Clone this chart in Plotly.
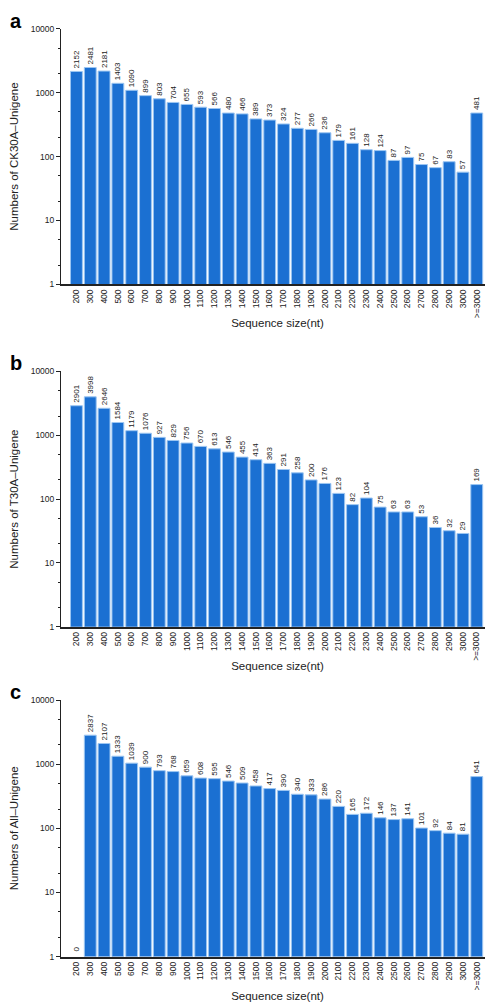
import plotly.graph_objects as go

categories = ["200", "300", "400", "500", "600", "700", "800", "900", "1000", "1100",
              "1200", "1300", "1400", "1500", "1600", "1700", "1800", "1900", "2000", "2100",
              "2200", "2300", "2400", "2500", "2600", "2700", "2800", "2900", "3000", ">=3000"]

ck30a = [2152, 2481, 2181, 1403, 1090, 899, 803, 704, 655, 593,
         566, 480, 466, 389, 373, 324, 277, 266, 236, 179,
         161, 128, 124, 87, 97, 75, 67, 83, 57, 481]

t30a = [2901, 3998, 2646, 1584, 1179, 1076, 927, 829, 756, 670,
        613, 546, 455, 414, 363, 291, 258, 200, 176, 123,
        82, 104, 75, 63, 63, 53, 36, 32, 29, 169]

all_unigene = [0, 2837, 2107, 1333, 1039, 900, 793, 768, 659, 608,
               595, 546, 509, 458, 417, 390, 340, 333, 286, 220,
               165, 172, 146, 137, 141, 101, 92, 84, 81, 641]

panels = [
    ("a", "Numbers of CK30A–Unigene", ck30a),
    ("b", "Numbers of T30A–Unigene", t30a),
    ("c", "Numbers of All–Unigene", all_unigene),
]

W, H = 493, 1008
# pixel positions (top of 10000, bottom at 1) for each panel
ypix = [(16, 274), (362, 620), (694, 953)]
FONT = "Liberation Sans, Arial, Helvetica, sans-serif"
BAR = "#1b70d2"
EDGE = "#9cc6f2"

fig = go.Figure()
annotations = []
layout = {}
for i, (letter, title, vals) in enumerate(panels):
    k = "" if i == 0 else str(i + 1)
    fig.add_trace(go.Bar(
        x=categories, y=vals,
        xaxis="x" + k, yaxis="y" + k,
        marker=dict(color=BAR, line=dict(color=EDGE, width=1)),
        text=[str(v) if v > 0 else "" for v in vals],
        textposition="outside",
        textangle=-90,
        textfont=dict(size=8, color="#222", family=FONT),
        cliponaxis=False,
        constraintext="none",
        showlegend=False,
        hoverinfo="x+y",
    ))
    top, bot = ypix[i]
    dom = [1 - bot / H, 1 - top / H]
    layout["xaxis" + k] = dict(
        domain=[0, 1], anchor="y" + k, type="category",
        range=[-1.12, 30.25],
        showline=True, linecolor="#222", linewidth=1.5,
        ticks="", tickangle=-90,
        tickfont=dict(size=8.5, color="#222", family=FONT),
        title=dict(text="Sequence size(nt)", font=dict(size=11.5, color="#222", family=FONT), standoff=2),
        showgrid=False, zeroline=False, fixedrange=True,
    )
    layout["yaxis" + k] = dict(
        domain=dom, anchor="x" + k, type="log", range=[0, 4],
        showline=True, linecolor="#222", linewidth=1,
        ticks="outside", ticklen=4, tickcolor="#222",
        tickvals=[1, 10, 100, 1000, 10000],
        ticktext=["1", "10", "100", "1000", "10000"],
        tickfont=dict(size=8.5, color="#222", family=FONT),
        minor=dict(ticks="outside", ticklen=2, tickcolor="#222", dtick="D2", showgrid=False),
        title=dict(text=title, font=dict(size=11.5, color="#222", family=FONT), standoff=12),
        showgrid=False, zeroline=False, fixedrange=True,
    )
    annotations.append(dict(
        text="<b>%s</b>" % letter, x=-53 / 433, y=dom[1] + 8 / H,
        xref="paper", yref="paper", xanchor="left", yanchor="middle",
        showarrow=False, font=dict(size=20, color="#000", family=FONT),
    ))
    # zero-valued bars get their label right on the baseline
    for idx, v in enumerate(vals):
        if v == 0:
            annotations.append(dict(
                text=str(v), x=idx, y=0, xref="x" + k, yref="y" + k,
                textangle=-90, yanchor="bottom", yshift=3, showarrow=False,
                font=dict(size=8, color="#222", family=FONT),
            ))

fig.update_layout(
    width=W, height=H,
    margin=dict(l=53, r=7, t=0, b=0),
    paper_bgcolor="white", plot_bgcolor="white",
    bargap=0.14,
    annotations=annotations,
    **layout,
)

fig.write_html("out.html")
